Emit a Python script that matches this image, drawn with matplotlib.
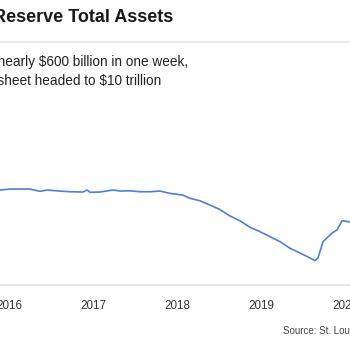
import matplotlib
matplotlib.use("Agg")
import matplotlib.pyplot as plt

plt.rcParams['font.family'] = ['Liberation Sans', 'DejaVu Sans']

# Fed total assets, trillions of dollars
dates = [2015.893, 2016.012, 2016.250, 2016.369, 2016.453, 2016.607, 2016.726,
         2016.881, 2016.929, 2016.965, 2017.084, 2017.238, 2017.322, 2017.441,
         2017.560, 2017.679, 2017.798, 2017.917, 2018.072, 2018.155, 2018.274,
         2018.393, 2018.512, 2018.631, 2018.750, 2018.870, 2018.989, 2019.108,
         2019.227, 2019.346, 2019.465, 2019.584, 2019.643, 2019.679, 2019.739,
         2019.846, 2019.905, 2019.965, 2020.000, 2020.060]
assets = [4.491, 4.501, 4.501, 4.477, 4.491, 4.480, 4.473,
          4.470, 4.491, 4.467, 4.470, 4.491, 4.480, 4.483,
          4.473, 4.473, 4.480, 4.456, 4.438, 4.404, 4.379,
          4.334, 4.287, 4.220, 4.170, 4.102, 4.056, 4.004,
          3.952, 3.883, 3.834, 3.782, 3.754, 3.782, 3.952,
          4.042, 4.074, 4.170, 4.167, 4.157]
years = [2016, 2017, 2018, 2019, 2020]

title = "Federal Reserve Total Assets"
sub1 = "Fed balance sheet grows nearly $600 billion in one week,"
sub2 = "Balance sheet headed to $10 trillion"
source = "Source: St. Louis Fed"

fig = plt.figure(figsize=(3.5, 3.5), dpi=100)
W, H = 350, 350

def fx(px):
    return px / W

def fy(py):
    return 1 - py / H

ax = fig.add_axes([0, fy(285), 1, fy(100) - fy(285)])
ax.plot(dates, assets, color='#4f7fd8', lw=1.2)
ax.set_xlim(2015.893, 2020.06)
ax.set_ylim(3.50, 5.43)
ax.set_xticks(years)
ax.set_xticklabels([str(y) for y in years], fontsize=8.4, color='#333333')
ax.tick_params(axis='x', length=0, pad=11)
ax.set_yticks([])
for s in ['top', 'left', 'right']:
    ax.spines[s].set_visible(False)
ax.spines['bottom'].set_color('#e2e2e2')
ax.spines['bottom'].set_linewidth(1.2)

fig.text(fx(173), fy(18), title, ha='right', va='center', fontsize=13,
         fontweight='bold', color='#1a1a1a')
fig.add_artist(plt.Line2D([0, 1], [fy(42), fy(42)], color='#e6e6e6', lw=1.2))
fig.text(fx(188), fy(62), sub1, ha='right', va='center', fontsize=9.8, color='#222222')
fig.text(fx(161), fy(81), sub2, ha='right', va='center', fontsize=9.8, color='#222222')
fig.text(fx(283), fy(331), source, ha='left', va='center', fontsize=7, color='#444444')

fig.savefig("out.png", dpi=100)
